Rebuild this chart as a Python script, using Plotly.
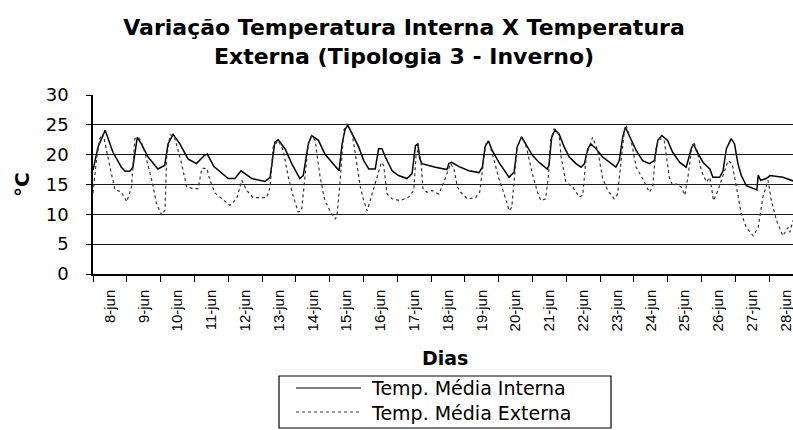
import plotly.graph_objects as go

# Day labels (one per day, centred on each day's interval)
dias = ["8-jun", "9-jun", "10-jun", "11-jun", "12-jun", "13-jun", "14-jun",
        "15-jun", "16-jun", "17-jun", "18-jun", "19-jun", "20-jun", "21-jun",
        "22-jun", "23-jun", "24-jun", "25-jun", "26-jun", "27-jun", "28-jun"]

# Time in days since 8-jun 00:00 and mean internal temperature (°C)
t_interna = [0.00, 0.15, 0.36, 0.59, 0.84, 0.95, 1.09, 1.18, 1.31, 1.43, 1.63, 1.92,
             2.12, 2.22, 2.37, 2.57, 2.81, 3.06, 3.30, 3.38, 3.58, 4.00, 4.20, 4.38,
             4.70, 5.09, 5.24, 5.38, 5.48, 5.68, 5.88, 6.12, 6.22, 6.37, 6.47, 6.67,
             6.86, 7.10, 7.28, 7.37, 7.46, 7.54, 7.66, 7.86, 8.01, 8.16, 8.35, 8.45,
             8.55, 8.65, 8.85, 9.04, 9.29, 9.44, 9.54, 9.61, 9.67, 9.73, 10.13, 10.47,
             10.53, 10.61, 10.83, 11.12, 11.42, 11.52, 11.60, 11.70, 11.81, 12.01, 12.31,
             12.46, 12.55, 12.68, 12.80, 13.00, 13.20, 13.44, 13.49, 13.57, 13.67, 13.80,
             13.94, 14.09, 14.29, 14.44, 14.54, 14.64, 14.73, 14.88, 15.08, 15.28, 15.47,
             15.57, 15.67, 15.75, 15.87, 16.07, 16.26, 16.46, 16.61, 16.71, 16.83, 17.00,
             17.15, 17.36, 17.55, 17.70, 17.77, 17.85, 18.05, 18.25, 18.34, 18.54, 18.64,
             18.74, 18.88, 18.98, 19.08, 19.18, 19.33, 19.53, 19.64, 19.68, 19.75, 19.92,
             20.03, 20.41, 20.71]
v_interna = [17.4, 21.3, 24.1, 20.4, 17.9, 17.2, 17.2, 17.9, 22.9, 21.8, 19.6, 17.6,
             18.2, 21.8, 23.4, 21.8, 19.3, 18.5, 19.9, 20.1, 18.0, 16.0, 16.0, 17.3,
             16.0, 15.5, 16.2, 22.1, 22.5, 21.0, 18.5, 16.0, 16.5, 21.8, 23.2, 22.4,
             20.1, 18.5, 17.3, 21.8, 24.3, 24.9, 23.5, 21.3, 19.0, 17.6, 17.6, 21.0,
             21.0, 19.6, 17.3, 16.5, 16.0, 16.8, 21.5, 21.8, 19.3, 18.5, 17.9, 17.5,
             18.5, 18.7, 18.0, 17.3, 17.0, 17.9, 21.3, 22.3, 20.7, 18.7, 16.2,
             17.1, 21.3, 23.0, 21.8, 19.9, 18.7, 17.6, 18.2, 22.9, 24.2, 23.3,
             21.3, 19.6, 18.5, 17.9, 18.5, 21.0, 21.8, 21.0, 19.6, 18.7, 17.9,
             19.0, 22.9, 24.6, 23.2, 20.7, 19.0, 18.5, 19.0, 22.4, 23.2, 22.4,
             20.4, 18.7, 17.9, 21.0, 21.8, 20.7, 18.7, 17.6, 16.2, 16.2, 17.3,
             21.0, 22.7, 21.8, 18.5, 16.5, 14.8, 14.3, 14.1, 16.6, 15.7, 16.0,
             16.5, 16.2, 15.6]

# Time in days since 8-jun 00:00 and mean external temperature (°C)
t_externa = [0.00, 0.10, 0.20, 0.30, 0.50, 0.65, 0.83, 1.00, 1.14, 1.24, 1.36, 1.49,
             1.74, 1.88, 2.03, 2.13, 2.18, 2.28, 2.40, 2.62, 2.77, 2.97, 3.11, 3.22,
             3.37, 3.46, 3.61, 3.81, 4.05, 4.25, 4.40, 4.55, 4.74, 5.14, 5.24, 5.33,
             5.48, 5.63, 5.78, 5.93, 6.07, 6.17, 6.27, 6.37, 6.47, 6.57, 6.72, 6.86,
             7.01, 7.17, 7.22, 7.32, 7.42, 7.51, 7.66, 7.76, 7.91, 8.01, 8.11, 8.20,
             8.40, 8.53, 8.60, 8.70, 8.85, 9.09, 9.34, 9.49, 9.56, 9.64, 9.71, 9.76,
             9.88, 10.03, 10.23, 10.38, 10.58, 10.68, 10.78, 10.88, 11.07, 11.32, 11.44,
             11.52, 11.62, 11.72, 11.83, 12.01, 12.21, 12.31, 12.39, 12.46, 12.55, 12.68,
             12.82, 13.00, 13.15, 13.25, 13.39, 13.47, 13.54, 13.64, 13.79, 13.85, 13.99,
             14.19, 14.39, 14.49, 14.59, 14.68, 14.78, 14.93, 15.08, 15.23, 15.42, 15.52,
             15.62, 15.72, 15.77, 15.92, 16.07, 16.26, 16.46, 16.56, 16.66, 16.75, 16.90,
             17.05, 17.15, 17.25, 17.40, 17.51, 17.60, 17.70, 17.77, 17.87, 18.00, 18.15,
             18.25, 18.36, 18.49, 18.64, 18.79, 18.91, 19.03, 19.18, 19.33, 19.53, 19.68,
             19.82, 19.97, 20.07, 20.22, 20.41, 20.56, 20.62, 20.71]
v_externa = [13.6, 19.0, 22.7, 23.5, 18.0, 14.1, 13.8, 12.1, 14.6, 22.7, 22.8, 21.3,
             15.7, 11.8, 9.9, 10.7, 19.6, 23.3, 23.2, 18.5, 14.6, 14.3, 14.3, 17.7,
             17.7, 15.7, 13.6, 12.6, 11.5, 12.6, 15.7, 14.0, 12.8, 12.8, 14.6, 21.3,
             22.4, 20.7, 16.2, 12.9, 10.4, 10.6, 16.2, 21.8, 23.2, 22.4, 16.2, 12.3,
             10.6, 9.2, 9.8, 16.2, 24.1, 25.2, 23.8, 20.1, 14.6, 12.3, 10.6, 12.3,
             16.2, 18.7, 18.2, 13.4, 12.6, 12.3, 12.9, 14.0, 20.1, 21.0, 18.5, 14.3,
             13.7, 14.0, 13.4, 15.4, 18.5, 17.6, 14.6, 13.7, 12.6, 12.8, 13.7,
             17.3, 21.8, 22.1, 19.6, 16.0, 12.6, 10.6, 11.2, 16.2, 21.3, 23.0,
             21.3, 16.8, 13.7, 12.3, 12.6, 16.2, 22.4, 24.3, 23.5, 19.6, 15.4,
             14.6, 12.9, 13.2, 19.6, 21.3, 22.9, 20.7, 16.0, 14.0, 12.6, 13.4,
             19.0, 24.0, 24.9, 22.4, 17.9, 16.0, 13.7, 14.6, 21.3, 22.7, 22.4,
             16.2, 14.8, 15.1, 14.6, 13.2, 16.2, 20.7, 22.1, 20.7, 17.3, 15.4,
             16.2, 12.3, 14.0, 16.5, 19.0, 18.5, 14.6, 10.1, 7.8, 6.4, 7.8,
             12.9, 15.7, 12.3, 9.0, 6.4, 7.8, 7.0, 9.0]

serie_interna = "Temp. Média Interna"
serie_externa = "Temp. Média Externa"

# Plot-area geometry (pixels)
W, H = 793, 430
ML, MR, MT, MB = 93, 0, 95, 156
PW, PH = W - ML - MR, H - MT - MB


def px(x):
    return (x - ML) / PW


def py(y):
    return (H - MB - y) / PH


fig = go.Figure()
fig.add_trace(go.Scatter(x=t_interna, y=v_interna, mode="lines", name=serie_interna,
                         line=dict(color="#000000", width=1.5), showlegend=False))
fig.add_trace(go.Scatter(x=t_externa, y=v_externa, mode="lines", name=serie_externa,
                         line=dict(color="#333333", width=1.2, dash="dot"), showlegend=False))

n = len(dias)
fig.update_xaxes(
    range=[0, 20.71], showgrid=False, zeroline=False,
    showline=True, linecolor="#000000", linewidth=1.5,
    tickmode="array", tickvals=[i + 0.5 for i in range(n)], ticktext=dias,
    ticks="", tickangle=-90, ticklabelstandoff=8, ticklabeloverflow="allow",
    tickfont=dict(family="Liberation Sans, Arial", size=15, color="#000000"),
    minor=dict(tickmode="array", tickvals=list(range(n + 1)), ticks="outside",
               ticklen=6, tickwidth=1, tickcolor="#000000", showgrid=False),
)
fig.update_yaxes(
    range=[0, 30], tickmode="array", tickvals=[0, 5, 10, 15, 20, 25, 30],
    showgrid=True, gridcolor="#1a1a1a", gridwidth=1.2, zeroline=False,
    showline=True, linecolor="#000000", linewidth=1.5,
    ticks="outside", ticklen=5, tickcolor="#000000", ticklabelstandoff=14,
    tickfont=dict(family="DejaVu Sans", size=18, color="#000000"),
)

annotations = [
    dict(text="Dias", x=px(445), y=py(358), xref="paper", yref="paper",
         showarrow=False, xanchor="center", yanchor="middle",
         font=dict(family="DejaVu Sans", size=19, color="#000000", weight="bold")),
    dict(text="°C", x=px(22), y=py(185), xref="paper", yref="paper", textangle=-90,
         showarrow=False, xanchor="center", yanchor="middle",
         font=dict(family="DejaVu Sans", size=20, color="#000000", weight="bold")),
    # Legend labels, one per row
    dict(text=serie_interna + "<br>" + serie_externa, x=px(369), y=py(400),
         xref="paper", yref="paper", showarrow=False, xanchor="left", yanchor="middle",
         align="left", font=dict(family="DejaVu Sans", size=19, color="#000000")),
]

# Legend frame and line samples
shapes = [
    dict(type="rect", xref="paper", yref="paper", x0=px(279), x1=px(611),
         y0=py(428), y1=py(376), line=dict(color="#000000", width=1.2),
         fillcolor="rgba(0,0,0,0)"),
    dict(type="line", xref="paper", yref="paper", x0=px(296), x1=px(361),
         y0=py(388), y1=py(388), line=dict(color="#000000", width=1.2)),
    dict(type="line", xref="paper", yref="paper", x0=px(296), x1=px(361),
         y0=py(412), y1=py(412), line=dict(color="#333333", width=1.2, dash="dot")),
]

fig.update_layout(
    width=W, height=H,
    margin=dict(l=ML, r=MR, t=MT, b=MB, autoexpand=False),
    paper_bgcolor="#ffffff", plot_bgcolor="#ffffff",
    title=dict(text="Variação Temperatura Interna X Temperatura<br>Externa (Tipologia 3 - Inverno)",
               x=404 / W, xref="container", xanchor="center",
               y=1 - 35 / H, yref="container", yanchor="middle",
               font=dict(family="DejaVu Sans", size=22, color="#000000", weight="bold")),
    annotations=annotations, shapes=shapes, showlegend=False,
)

fig.write_html("out.html")
